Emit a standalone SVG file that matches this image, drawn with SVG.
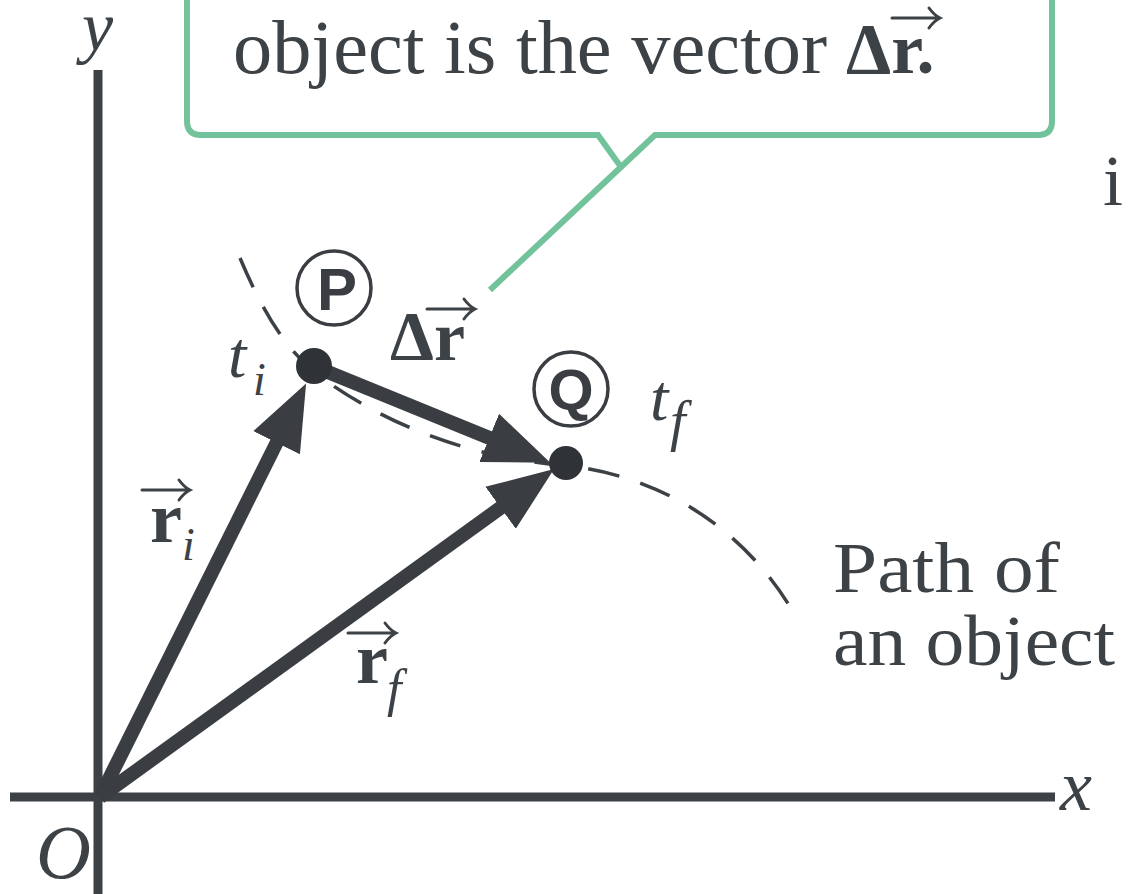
<svg xmlns="http://www.w3.org/2000/svg" xmlns:xlink="http://www.w3.org/1999/xlink" width="1129" height="894" viewBox="0 0 1129 894">
<style>
.axis{stroke:#3c4146;stroke-width:9;fill:none}
.vec{stroke:#3a3e43;stroke-width:14;fill:none}
.path{stroke:#3c4146;stroke-width:3.5;fill:none;stroke-dasharray:32 22}
.call{stroke:#72c29b;stroke-width:6;fill:none;stroke-linejoin:miter}
.serif{fill:#3d4247}
.it{font-style:italic}
.bd{font-weight:bold}
.sans{font-weight:bold;fill:#3a3e43}
.ring{fill:#fff;stroke:#3a3e43;stroke-width:3.5}
.dot{fill:#2f3338}
.va{stroke:#3d4247;stroke-width:3;fill:none;stroke-linecap:round}
</style>
<defs>
<marker id="head" markerUnits="userSpaceOnUse" markerWidth="70" markerHeight="56" viewBox="0 -28 70 56" refX="3" refY="0" orient="auto">
<path d="M0,-26 L66,0 L0,26 z" fill="#3a3e43"/>
</marker>
<g id="vbar">
<path class="va" d="M0,0 H47 M37,-10 Q42,-3 48,0 Q42,3 37,10"/>
</g>
</defs>
<rect width="1129" height="894" fill="#fff"/>

<g font-family="'Liberation Serif', 'DejaVu Serif', serif">
<g id="callout">
<path d="M187,-20 V121 Q187,135 201,135 H1038 Q1052,135 1052,121 V-20 Z" fill="#fff" stroke="none"/>
<path class="call" d="M187,-20 V121 Q187,135 201,135 H598 L621,167 L490,290 M621,167 L655,135 H1038 Q1052,135 1052,121 V-20"/>
<text class="serif" x="233" y="73" font-size="76" textLength="594" lengthAdjust="spacingAndGlyphs">object is the vector</text>
<text class="serif bd" x="846" y="73" font-size="72">Δr.</text>
<use xlink:href="#vbar" x="892" y="18"/>
</g>

<g id="axes">
<line class="axis" x1="98" y1="70" x2="98" y2="894"/>
<line class="axis" x1="10" y1="797" x2="1055" y2="797"/>
<text class="serif it" x="82" y="50" font-size="70">y</text>
<text class="serif it" x="1060" y="810" font-size="72">x</text>
<text class="serif it" x="36" y="878" font-size="76">O</text>
</g>

<g id="trajectory">
<path class="path" d="M240,258 C262,310 286,352 322,378 C380,420 460,456 560,465 C650,473 740,520 795,615"/>
</g>

<g id="connectors">
<line class="vec" x1="100" y1="797" x2="278" y2="440" marker-end="url(#head)"/>
<line class="vec" x1="100" y1="797" x2="503" y2="506" marker-end="url(#head)"/>
<line class="vec" x1="318" y1="368" x2="492" y2="439" marker-end="url(#head)"/>
</g>

<g id="P">
<circle class="dot" cx="314" cy="366" r="18"/>
<circle class="ring" cx="334" cy="288" r="37"/>
<text class="sans" font-family="'Liberation Sans', Arial, sans-serif" x="337" y="310" font-size="60" text-anchor="middle">P</text>
<text class="serif it" x="228" y="377" font-size="66">t</text>
<text class="serif it" x="253" y="395" font-size="46">i</text>
</g>

<g id="Q">
<circle class="dot" cx="566" cy="463" r="17"/>
<circle class="ring" cx="571" cy="389" r="37"/>
<text class="sans" font-family="'Liberation Sans', Arial, sans-serif" x="571" y="410" font-size="58" text-anchor="middle">Q</text>
<text class="serif it" x="650" y="420" font-size="66">t</text>
<text class="serif it" x="670" y="440" font-size="56">f</text>
</g>

<g id="label-dr">
<text class="serif bd" x="390" y="360" font-size="70">Δr</text>
<use xlink:href="#vbar" x="427" y="309"/>
</g>

<g id="label-ri">
<text class="serif bd" x="150" y="542" font-size="72">r</text>
<text class="serif it" x="182" y="560" font-size="46">i</text>
<use xlink:href="#vbar" x="142" y="490"/>
</g>

<g id="label-rf">
<text class="serif bd" x="356" y="683" font-size="72">r</text>
<text class="serif it" x="387" y="706" font-size="52">f</text>
<use xlink:href="#vbar" x="348" y="633"/>
</g>

<g id="label-path">
<text class="serif" x="833" y="592" font-size="72" textLength="227" lengthAdjust="spacingAndGlyphs">Path of</text>
<text class="serif" x="833" y="665" font-size="72" textLength="282" lengthAdjust="spacingAndGlyphs">an object</text>
</g>

<text class="serif" x="1103" y="205" font-size="72">i</text>
</g>
</svg>
